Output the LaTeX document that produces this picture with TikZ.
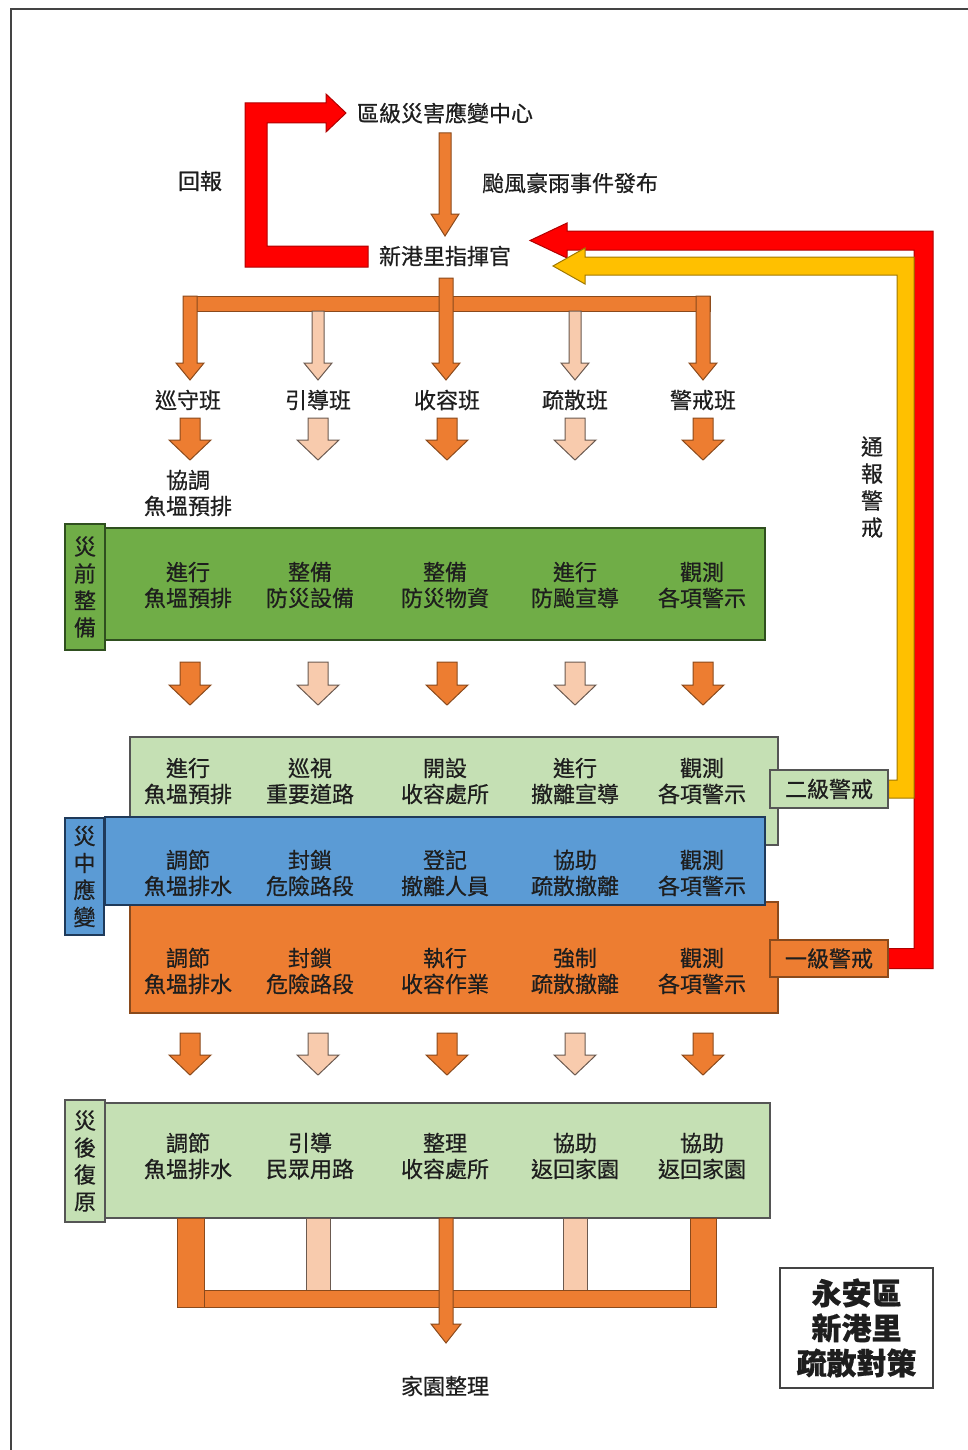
\documentclass[tikz,border=0pt]{standalone}
\usepackage{fontspec}
\setmainfont{Noto Sans CJK TC}[FakeBold=0.6]
\usetikzlibrary{calc}
\definecolor{org}{HTML}{ED7D31}
\definecolor{orgline}{HTML}{8A4A1C}
\definecolor{peach}{HTML}{F8CBAD}
\definecolor{peachline}{HTML}{6B5A50}
\definecolor{gmain}{HTML}{70AD47}
\definecolor{gline}{HTML}{2F4F1F}
\definecolor{lgreen}{HTML}{C5E0B4}
\definecolor{lgline}{HTML}{555555}
\definecolor{bmain}{HTML}{5B9BD5}
\definecolor{bline}{HTML}{1F3A5A}
\definecolor{rr}{HTML}{FF0000}
\definecolor{rrline}{HTML}{B00000}
\definecolor{yy}{HTML}{FFC000}
\definecolor{yyline}{HTML}{A07800}
\definecolor{txtc}{HTML}{1E1E1E}
\definecolor{frame}{HTML}{444444}
% vertical block arrow: style, from, to, half shaft, half head, head length
\newcommand\dnarr[6]{%
  \path[#1] let \p1=(#2), \p2=(#3) in
    (\x1-#4,\y1) -- (\x1+#4,\y1) -- (\x1+#4,\y2+#6) -- (\x1+#5,\y2+#6)
    -- (\x1,\y2) -- (\x1-#5,\y2+#6) -- (\x1-#4,\y2+#6) -- cycle;}
\begin{document}
\begin{tikzpicture}[x=1pt,y=-1pt,
  every node/.style={inner sep=0pt},
  txt/.style={align=center, text=txtc, font=\fontsize{22}{26}\selectfont},
  lbl/.style={align=center, text=txtc, font=\fontsize{22}{27}\selectfont},
  darkarr/.style={fill=org, draw=orgline, line width=1pt, line join=miter},
  lightarr/.style={fill=peach, draw=peachline, line width=1pt, line join=miter},
  redarr/.style={fill=rr, draw=rrline, line width=1pt, line join=miter},
  yelarr/.style={fill=yy, draw=yyline, line width=1pt, line join=miter},
  prebox/.style={rectangle, fill=gmain, draw=gline, line width=1.2pt},
  lgbox/.style={rectangle, fill=lgreen, draw=lgline, line width=1.2pt},
  bbox/.style={rectangle, fill=bmain, draw=bline, line width=1.2pt},
  obox/.style={rectangle, fill=org, draw=orgline, line width=1.2pt},
  legend/.style={rectangle, draw=frame, line width=2pt, fill=white, align=center,
    text=txtc, font=\fontsize{30}{35}\selectfont\bfseries}
]
\useasboundingbox (0,0) rectangle (968,1450);
% frame
\coordinate (fa) at (11,1452);
\coordinate (fb) at (11,9);
\coordinate (fc) at (970,9);
\draw[frame, line width=2pt] (fa) -- (fb) -- (fc);

% top nodes
\node[txt] (center) at (445,113) {區級災害應變中心};
\node[txt] (cmd) at (445,256) {新港里指揮官};
\node[txt] (issue) at (570,183) {颱風豪雨事件發布};
\node[txt] (report) at (200,181) {回報};

% arrow center -> cmd
\coordinate (c1) at (445,133);
\coordinate (c2) at (445,236);
\dnarr{darkarr}{c1}{c2}{6pt}{14pt}{22pt}

% report loop (red)
\coordinate (rps) at (368,256.5);
\coordinate (rpt) at (346,113);
\coordinate (rpturn) at (256,0);
\path[redarr] let \p1=(rps), \p2=(rpt), \p3=(rpturn) in
  (\x1,\y1+10.5pt) -- (\x3+11pt,\y1+10.5pt) -- (\x3+11pt,\y2-10pt) -- (\x2-20pt,\y2-10pt)
  -- (\x2-20pt,\y2-19pt) -- (\x2,\y2) -- (\x2-20pt,\y2+19pt) -- (\x2-20pt,\y2+10pt)
  -- (\x3-11pt,\y2+10pt) -- (\x3-11pt,\y1-10.5pt) -- (\x1,\y1-10.5pt) -- cycle;

% branch bar
\coordinate (bl) at (183,296);
\coordinate (br) at (710,311);
\path[darkarr] (bl) rectangle (br);
\coordinate (b1s) at (190,296);  \coordinate (b1e) at (190,380);
\coordinate (b2s) at (318,311);  \coordinate (b2e) at (318,380);
\coordinate (b3s) at (446,278);  \coordinate (b3e) at (446,380);
\coordinate (b4s) at (575,311);  \coordinate (b4e) at (575,380);
\coordinate (b5s) at (703,296);  \coordinate (b5e) at (703,380);
\dnarr{darkarr}{b1s}{b1e}{7pt}{14pt}{17pt}
\dnarr{lightarr}{b2s}{b2e}{6pt}{14pt}{17pt}
\dnarr{darkarr}{b3s}{b3e}{7pt}{14pt}{17pt}
\dnarr{lightarr}{b4s}{b4e}{6pt}{14pt}{17pt}
\dnarr{darkarr}{b5s}{b5e}{7pt}{14pt}{17pt}

% teams
\node[txt] (t1) at (188,400) {巡守班};
\node[txt] (t2) at (318,400) {引導班};
\node[txt] (t3) at (447,400) {收容班};
\node[txt] (t4) at (575,400) {疏散班};
\node[txt] (t5) at (703,400) {警戒班};
\node[txt] (coord) at (188,493) {協調\\魚塭預排};

\foreach \x/\s [count=\i] in {190/darkarr,318/lightarr,447/darkarr,575/lightarr,703/darkarr}{
  \coordinate (ta\i) at (\x,418); \coordinate (tb\i) at (\x,460);
  \dnarr{\s}{ta\i}{tb\i}{10pt}{21pt}{20pt}
  \coordinate (ga\i) at (\x,662); \coordinate (gb\i) at (\x,705);
  \dnarr{\s}{ga\i}{gb\i}{10pt}{21pt}{20pt}
  \coordinate (oa\i) at (\x,1033); \coordinate (ob\i) at (\x,1075);
  \dnarr{\s}{oa\i}{ob\i}{10pt}{21pt}{20pt}
}

% red / yellow alert loops
\node[obox, minimum width=118pt, minimum height=37pt] (lvone) at (829,958.5) {};
\node[lgbox, minimum width=118pt, minimum height=38pt] (lvtwo) at (829,789) {};
\coordinate (redtip) at (530,240.5);
\coordinate (redturn) at (923.5,0);
\path[redarr] let \p1=(lvone.east), \p2=(redtip), \p3=(redturn) in
  (\x1,\y1+10pt) -- (\x3-9.5pt,\y1+10pt) -- (\x3-9.5pt,\y2-9.5pt) -- (\x2+37pt,\y2-9.5pt)
  -- (\x2+37pt,\y2-17.5pt) -- (\x2,\y2) -- (\x2+37pt,\y2+17.5pt) -- (\x2+37pt,\y2+9.5pt)
  -- (\x3+9.5pt,\y2+9.5pt) -- (\x3+9.5pt,\y1-10pt) -- (\x1,\y1-10pt) -- cycle;
\coordinate (yeltip) at (553,266);
\coordinate (yelturn) at (905.5,0);
\path[yelarr] let \p1=(lvtwo.east), \p2=(yeltip), \p3=(yelturn) in
  (\x1,\y1+9pt) -- (\x3-8.5pt,\y1+9pt) -- (\x3-8.5pt,\y2-9pt) -- (\x2+32pt,\y2-9pt)
  -- (\x2+32pt,\y2-18pt) -- (\x2,\y2) -- (\x2+32pt,\y2+18pt) -- (\x2+32pt,\y2+9pt)
  -- (\x3+8.5pt,\y2+9pt) -- (\x3+8.5pt,\y1-9pt) -- (\x1,\y1-9pt) -- cycle;
\node[lbl] (notify) at (872,487) {通\\報\\警\\戒};

% pre-disaster
\node[prebox, minimum width=660pt, minimum height=112pt] (prem) at (435,584) {};
\node[prebox, lbl, minimum width=40pt, minimum height=126pt] (prel) at (85,587) {災\\前\\整\\備};
\foreach \x/\tx [count=\i] in {188/{進行\\魚塭預排},310/{整備\\防災設備},445/{整備\\防災物資},575/{進行\\防颱宣導},702/{觀測\\各項警示}}
  \node[txt] (pre\i) at (\x,585) {\tx};

% during-disaster boxes
\node[lgbox, minimum width=648pt, minimum height=108pt] (lvtwom) at (454,791) {};
\node[obox, minimum width=648pt, minimum height=111pt] (lvonem) at (454,957.5) {};
\node[bbox, minimum width=660pt, minimum height=88pt] (durm) at (435,861) {};
\node[bbox, lbl, minimum width=39pt, minimum height=117pt] (durl) at (84.5,876.5) {災\\中\\應\\變};
\node[lgbox, txt, minimum width=118pt, minimum height=38pt] (lvtwo2) at (829,789) {二級警戒};
\node[obox, txt, minimum width=118pt, minimum height=37pt] (lvone2) at (829,958.5) {一級警戒};
\foreach \x/\tx [count=\i] in {188/{進行\\魚塭預排},310/{巡視\\重要道路},445/{開設\\收容處所},575/{進行\\撤離宣導},702/{觀測\\各項警示}}
  \node[txt] (two\i) at (\x,781) {\tx};
\foreach \x/\tx [count=\i] in {188/{調節\\魚塭排水},310/{封鎖\\危險路段},445/{登記\\撤離人員},575/{協助\\疏散撤離},702/{觀測\\各項警示}}
  \node[txt] (dur\i) at (\x,873) {\tx};
\foreach \x/\tx [count=\i] in {188/{調節\\魚塭排水},310/{封鎖\\危險路段},445/{執行\\收容作業},575/{強制\\疏散撤離},702/{觀測\\各項警示}}
  \node[txt] (one\i) at (\x,971) {\tx};

% post-disaster
\node[lgbox, minimum width=665pt, minimum height=115pt] (postm) at (437.5,1160.5) {};
\node[lgbox, lbl, minimum width=40pt, minimum height=122pt] (postl) at (85,1161) {災\\後\\復\\原};
\foreach \x/\tx [count=\i] in {188/{調節\\魚塭排水},310/{引導\\民眾用路},445/{整理\\收容處所},575/{協助\\返回家園},702/{協助\\返回家園}}
  \node[txt] (post\i) at (\x,1156) {\tx};

% bottom rake
\coordinate (p1e) at (204,1307);
\coordinate (p5e) at (716,1307);
\path[darkarr] (177,1218) rectangle (p1e);
\path[darkarr] (690,1218) rectangle (p5e);
\path[lightarr] (306,1218) rectangle (330,1290);
\path[lightarr] (563,1218) rectangle (587,1290);
\path[darkarr] (204,1290) rectangle (690,1307);
\node[txt] (home) at (445,1386) {家園整理};
\coordinate (hs) at (446,1218);
\coordinate (he) at (446,1343);
\dnarr{darkarr}{hs}{he}{7pt}{15pt}{19pt}

% legend
\node[legend, minimum width=153pt, minimum height=120pt] (title) at (856.5,1328) {永安區\\新港里\\疏散對策};
\end{tikzpicture}
\end{document}
